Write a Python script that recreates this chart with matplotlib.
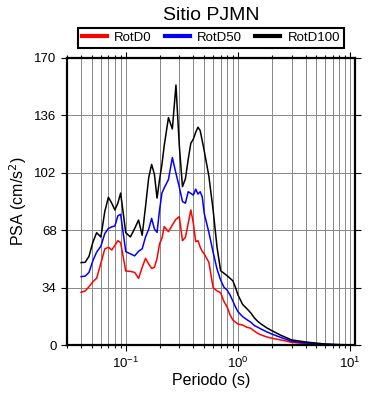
import matplotlib
matplotlib.use("Agg")
import matplotlib.pyplot as plt
from matplotlib.ticker import LogLocator, NullFormatter, FixedLocator

plt.rcParams['font.family'] = ['Liberation Sans', 'DejaVu Sans']

# Period (s)
periods = [0.040, 0.0435, 0.047, 0.051, 0.055, 0.060, 0.065, 0.070, 0.075, 0.080,
           0.085, 0.090, 0.100, 0.110, 0.120, 0.130, 0.140, 0.150, 0.160, 0.170,
           0.180, 0.190, 0.200, 0.210, 0.220, 0.240, 0.260, 0.280, 0.300, 0.320,
           0.340, 0.360, 0.380, 0.400, 0.420, 0.440, 0.460, 0.480, 0.500, 0.550,
           0.600, 0.650, 0.700, 0.750, 0.800, 0.850, 0.900, 0.950, 1.0, 1.1,
           1.2, 1.3, 1.4, 1.5, 1.6, 1.8, 2.0, 2.4, 3.0, 4.0,
           5.0, 6.0, 7.5, 10.0, 11.0]

# PSA (cm/s^2)
rotd0 = [31.2, 32.0, 34.5, 37.5, 39.5, 48.4, 56.9, 57.9, 56.3, 59.0,
         61.8, 60.6, 43.8, 43.6, 43.0, 39.5, 46.0, 51.3, 48.0, 45.4,
         46.0, 51.3, 60.0, 63.2, 70.1, 67.1, 71.1, 74.5, 76.0, 61.8,
         63.8, 72.0, 80.0, 72.1, 61.2, 61.8, 58.0, 55.5, 53.9, 49.0,
         34.0, 32.0, 31.0, 25.7, 22.5, 17.8, 14.8, 13.5, 12.4, 11.8,
         10.5, 9.9, 8.2, 6.9, 6.0, 4.8, 4.0, 3.0, 1.6, 0.8,
         0.5, 0.2, 0.1, 0.02, 0.0]

rotd50 = [40.5, 40.8, 43.0, 50.0, 55.0, 58.5, 66.0, 69.0, 70.0, 70.5,
          76.5, 77.4, 55.3, 54.0, 52.8, 55.5, 57.0, 64.0, 68.5, 75.0,
          68.7, 66.7, 80.0, 90.0, 93.0, 98.0, 111.0, 101.7, 93.5, 85.0,
          84.0, 90.8, 89.8, 88.8, 92.3, 89.4, 90.8, 87.8, 78.0, 66.7,
          55.0, 45.0, 38.5, 34.2, 32.5, 29.6, 26.0, 22.5, 19.7, 16.8,
          15.0, 13.5, 11.5, 10.5, 9.5, 7.8, 6.5, 4.5, 2.2, 1.2,
          0.8, 0.4, 0.2, 0.05, 0.02]

rotd100 = [48.8, 49.0, 52.5, 61.0, 66.5, 64.0, 79.0, 87.5, 84.0, 80.0,
           84.0, 90.0, 66.5, 64.0, 69.0, 74.0, 65.0, 82.0, 99.0, 107.0,
           101.0, 87.0, 98.0, 107.0, 118.0, 134.7, 128.0, 154.0, 118.0, 93.8,
           98.5, 110.0, 119.5, 122.0, 126.0, 129.0, 127.0, 121.0, 115.0, 100.0,
           80.0, 58.0, 44.0, 42.5, 41.0, 39.5, 38.0, 34.0, 29.6, 24.0,
           21.5, 19.0, 16.0, 14.0, 12.5, 10.2, 8.5, 5.8, 3.0, 1.8,
           1.1, 0.6, 0.3, 0.1, 0.05]

y_ticks = [0, 34, 68, 102, 136, 170]

fig = plt.figure(figsize=(3.9, 4.0), dpi=100)
ax = fig.add_axes([0.172, 0.1375, 0.738, 0.7175])

ax.plot(periods, rotd0, color='red', lw=1.1, label='RotD0')
ax.plot(periods, rotd50, color='blue', lw=1.1, label='RotD50')
ax.plot(periods, rotd100, color='black', lw=1.1, label='RotD100')

ax.set_xscale('log')
ax.set_xlim(0.03, 11)
ax.set_ylim(0, 170)
ax.yaxis.set_major_locator(FixedLocator(y_ticks))
ax.xaxis.set_major_locator(LogLocator(base=10))
ax.xaxis.set_minor_locator(LogLocator(base=10, subs=range(2, 10)))
ax.xaxis.set_minor_formatter(NullFormatter())

# grid
ax.grid(True, which='both', axis='x', color='#888888', lw=0.7)
ax.grid(True, which='major', axis='y', color='#888888', lw=0.7)
ax.set_axisbelow(True)

# ticks on all four sides, pointing out
ax.tick_params(which='both', direction='out', top=True, right=True,
               labelsize=9.5, width=0.8)
ax.tick_params(which='major', length=4)
ax.tick_params(which='minor', length=2.5)
for sp in ax.spines.values():
    sp.set_linewidth(1.6)

ax.set_xlabel('Periodo (s)', fontsize=11.5, labelpad=2)
ax.set_ylabel('PSA (cm/s$^2$)', fontsize=11.5, labelpad=4)
ax.set_title('Sitio PJMN', fontsize=14, pad=27)

leg = ax.legend(loc='lower center', bbox_to_anchor=(0.5, 1.035), ncol=3,
                fancybox=False, edgecolor='black', framealpha=1,
                fontsize=9.5, handlelength=1.9, columnspacing=1.0,
                borderpad=0.3, handletextpad=0.55, borderaxespad=0)
leg.get_frame().set_linewidth(1.5)
for line in leg.get_lines():
    line.set_linewidth(3)

fig.savefig('out.png', dpi=100)
